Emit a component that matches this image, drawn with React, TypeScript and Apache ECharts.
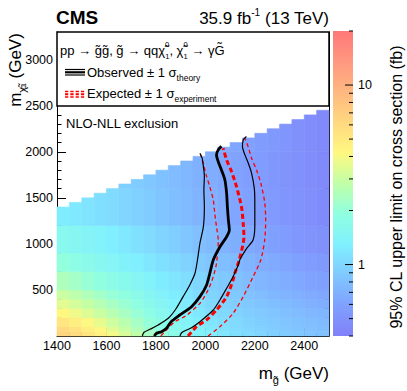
import React, { useEffect, useRef } from "react";
import * as echarts from "echarts";

// ---------- data ----------
const GLUINO_EDGES = [1400, 1450, 1500, 1550, 1600, 1650, 1700, 1750, 1800, 1850, 1900, 1950, 2000, 2050, 2100, 2150, 2200, 2250, 2300, 2350, 2400, 2450, 2500];
const NEUTRALINO_BANDS = [0, 50, 100, 200, 300, 400, 500, 700, 900, 1200, 1600, 2000, 2500];
const N = null;
// observed 95% CL upper limit (fb); one row per neutralino band, one value per gluino column
const LIMIT_ROWS: (number | null)[][] = [
  [6.5, 5.9, 5.2, 4.5, 3.9, 3.3, 2.8, 2.35, 2.0, 1.75, 1.55, 1.4, 1.28, 1.18, 1.12, 1.06, 1.0, 0.95, 0.9, 0.88, 0.85, 0.82],
  [6.0, 5.4, 4.7, 4.1, 3.5, 3.0, 2.5, 2.2, 1.85, 1.65, 1.48, 1.33, 1.22, 1.13, 1.07, 1.01, 0.96, 0.92, 0.88, 0.85, 0.82, 0.8],
  [5.2, 4.7, 4.1, 3.6, 3.1, 2.7, 2.3, 2.0, 1.75, 1.55, 1.4, 1.27, 1.16, 1.09, 1.03, 0.97, 0.93, 0.89, 0.85, 0.82, 0.79, 0.77],
  [4.2, 3.8, 3.4, 3.0, 2.65, 2.35, 2.05, 1.8, 1.6, 1.44, 1.32, 1.2, 1.1, 1.03, 0.98, 0.93, 0.89, 0.85, 0.81, 0.78, 0.75, 0.73],
  [3.5, 3.2, 2.9, 2.6, 2.35, 2.1, 1.85, 1.65, 1.48, 1.35, 1.23, 1.13, 1.04, 0.98, 0.93, 0.88, 0.84, 0.8, 0.76, 0.73, 0.7, 0.68],
  [3.0, 2.75, 2.5, 2.25, 2.05, 1.88, 1.7, 1.53, 1.38, 1.26, 1.16, 1.07, 0.99, 0.93, 0.88, 0.83, 0.79, 0.75, 0.72, 0.69, 0.66, 0.64],
  [2.45, 2.25, 2.05, 1.9, 1.75, 1.62, 1.48, 1.36, 1.25, 1.16, 1.08, 1.0, 0.93, 0.88, 0.83, 0.78, 0.74, 0.7, 0.67, 0.64, 0.61, 0.59],
  [1.95, 1.8, 1.68, 1.57, 1.47, 1.37, 1.28, 1.19, 1.11, 1.04, 0.97, 0.9, 0.85, 0.8, 0.76, 0.72, 0.68, 0.65, 0.62, 0.59, 0.56, 0.54],
  [1.6, 1.52, 1.44, 1.36, 1.28, 1.2, 1.12, 1.05, 0.98, 0.92, 0.86, 0.81, 0.76, 0.72, 0.68, 0.65, 0.62, 0.59, 0.56, 0.53, 0.51, 0.49],
  [1.25, 1.2, 1.15, 1.1, 1.05, 1.0, 0.95, 0.9, 0.85, 0.8, 0.76, 0.72, 0.69, 0.66, 0.63, 0.6, 0.57, 0.55, 0.52, 0.5, 0.48, 0.46],
  [N, N, N, N, N, 0.95, 0.9, 0.86, 0.82, 0.78, 0.74, 0.7, 0.67, 0.64, 0.61, 0.58, 0.56, 0.53, 0.51, 0.49, 0.47, 0.45],
  [N, N, N, N, N, N, N, N, N, N, N, N, N, 0.66, 0.63, 0.6, 0.57, 0.54, 0.52, 0.49, 0.47, 0.45],
];

const OBS_MINUS = [[1745, 0], [1752, 40], [1778, 75], [1809, 119], [1850, 192], [1880, 290], [1910, 427], [1937, 554], [1958, 681], [1968, 825], [1978, 1007], [1992, 1187], [1996, 1404], [1994, 1585], [1996, 1733], [1992, 1841], [1987, 1930], [1978, 1984]];
const OBSERVED = [[1793, 0], [1803, 29], [1823, 47], [1843, 84], [1860, 150], [1897, 228], [1944, 318], [1978, 427], [2005, 554], [2018, 681], [2032, 825], [2059, 969], [2086, 1078], [2097, 1151], [2093, 1260], [2089, 1405], [2086, 1549], [2079, 1694], [2065, 1803], [2052, 1893], [2045, 1966], [2052, 2020], [2065, 2059]];
const OBS_PLUS = [[1897, 0], [1904, 36], [1924, 65], [1944, 90], [1978, 155], [2032, 282], [2059, 391], [2086, 518], [2112, 644], [2133, 771], [2139, 825], [2167, 952], [2193, 1042], [2200, 1200], [2200, 1450], [2198, 1600], [2187, 1766], [2173, 1880], [2160, 1966], [2150, 2056], [2153, 2128], [2166, 2165]];
const EXP_MINUS = [[1820, 0], [1836, 47], [1857, 108], [1877, 155], [1924, 225], [1978, 355], [2011, 499], [2032, 644], [2045, 789], [2052, 1042], [2045, 1187], [2038, 1332], [2032, 1476], [2018, 1621], [2005, 1733], [1991, 1875], [1980, 1975]];
const EXPECTED = [[1930, 0], [1964, 101], [2005, 174], [2045, 282], [2086, 427], [2112, 608], [2119, 681], [2137, 825], [2156, 1078], [2153, 1224], [2146, 1404], [2126, 1621], [2106, 1784], [2086, 1911], [2072, 2038]];
const EXP_PLUS = [[2011, 0], [2059, 101], [2112, 246], [2153, 427], [2193, 644], [2224, 825], [2240, 1042], [2244, 1260], [2240, 1450], [2225, 1650], [2207, 1802], [2187, 1929], [2173, 2055], [2160, 2147]];

const X_MIN = 1400, X_MAX = 2500, X_STEP = 200;
const Y_MIN = 0, Y_MAX = 3300, Y_STEP = 500;
const Y_LABEL_MAX = 3000;
const CB_MIN = 0.4, CB_MAX = 20;
const CB_TICKS = [0.4, 0.5, 0.6, 0.7, 0.8, 0.9, 1, 2, 3, 4, 5, 6, 7, 8, 9, 10, 20];
const CB_MAJOR = [1, 10];
const CB_LABELS = [1, 10];

const PALETTE = ["#8080f8", "#80a0ff", "#80c8ff", "#80f0ff", "#90ffe0", "#c0ffa8", "#fff880", "#ffd880", "#ffb880", "#ff9880", "#ff7878"];
const FONT = "'Liberation Sans', Arial, Helvetica, sans-serif";

function buildCells() {
  const cells: number[][] = [];
  for (let i = 0; i < GLUINO_EDGES.length - 1; i++) {
    const x0 = GLUINO_EDGES[i];
    const x1 = GLUINO_EDGES[i + 1];
    for (let j = 0; j < NEUTRALINO_BANDS.length - 1; j++) {
      const v = LIMIT_ROWS[j][i];
      if (v == null) continue;
      const y0 = NEUTRALINO_BANDS[j];
      const y1 = Math.min(NEUTRALINO_BANDS[j + 1], x0);
      if (y1 <= y0) continue;
      cells.push([x0, x1, y0, y1, Math.log10(v), v]);
    }
  }
  return cells;
}

export default function App() {
  const ref = useRef<HTMLDivElement>(null);
  useEffect(() => {
    if (!ref.current) return;
    const chart = echarts.init(ref.current, undefined, { renderer: "svg" });
    const black = "#000";
    const mkLine = (data: number[][], color: string, width: number, dash?: number[]) => ({
      type: "line",
      xAxisIndex: 0,
      yAxisIndex: 0,
      data,
      symbol: "none",
      showSymbol: false,
      smooth: 0.25,
      silent: true,
      z: 5,
      lineStyle: { color, width, type: dash ? dash : "solid", cap: "butt" },
    });
    const tickStyle = { color: black, width: 1 };
    const option: any = {
      animation: false,
      textStyle: { fontFamily: FONT },
      grid: [
        { left: 57, top: 32, width: 272, height: 304, show: false, outerBoundsMode: "none", containLabel: false },
        { left: 333, top: 31, width: 20, height: 305, show: false, outerBoundsMode: "none", containLabel: false },
      ],
      visualMap: {
        type: "continuous",
        show: false,
        seriesIndex: 0,
        dimension: 4,
        min: Math.log10(CB_MIN),
        max: Math.log10(CB_MAX),
        inRange: { color: PALETTE },
      },
      xAxis: [
        {
          type: "value", gridIndex: 0, min: X_MIN, max: X_MAX, interval: X_STEP, position: "bottom",
          axisLine: { show: true, onZero: false, lineStyle: tickStyle },
          axisTick: { show: true, inside: true, length: 8, lineStyle: tickStyle },
          minorTick: { show: true, splitNumber: 4, length: 4, lineStyle: tickStyle },
          axisLabel: { color: black, fontSize: 12.5, margin: 3, fontFamily: FONT, formatter: (v: number) => (v > 2400 ? "" : String(v)) },
          splitLine: { show: false }, minorSplitLine: { show: false },
        },
        { type: "value", gridIndex: 1, min: 0, max: 1, show: false },
      ],
      yAxis: [
        {
          type: "value", gridIndex: 0, min: Y_MIN, max: Y_MAX, interval: Y_STEP, position: "left",
          axisLine: { show: true, onZero: false, lineStyle: tickStyle },
          axisTick: { show: true, inside: true, length: 9, lineStyle: tickStyle },
          minorTick: { show: true, splitNumber: 5, length: 4.5, lineStyle: tickStyle },
          axisLabel: { color: black, fontSize: 12.5, margin: 4, fontFamily: FONT, formatter: (v: number) => (v <= 0 || v > Y_LABEL_MAX ? "" : String(v)) },
          splitLine: { show: false }, minorSplitLine: { show: false },
        },
        {
          type: "value", gridIndex: 0, min: Y_MIN, max: Y_MAX, interval: Y_STEP, position: "right",
          axisLine: { show: true, onZero: false, lineStyle: tickStyle },
          axisTick: { show: true, inside: true, length: 9, lineStyle: tickStyle },
          minorTick: { show: true, splitNumber: 5, length: 4.5, lineStyle: tickStyle },
          axisLabel: { show: false },
          splitLine: { show: false }, minorSplitLine: { show: false },
        },
        {
          type: "log", logBase: 10, gridIndex: 1, min: CB_MIN, max: CB_MAX, position: "right",
          axisLine: { show: false }, axisTick: { show: false }, splitLine: { show: false },
          axisLabel: {
            color: black, fontSize: 12.5, margin: 5, fontFamily: FONT,
            formatter: (v: number) => {
              const hit = CB_LABELS.find((l) => Math.abs(v - l) < 1e-6 * l);
              return hit !== undefined ? String(hit) : "";
            },
          },
        },
      ],
      series: [
        {
          type: "custom",
          xAxisIndex: 0,
          yAxisIndex: 0,
          silent: true,
          z: 1,
          dimensions: ["x0", "x1", "y0", "y1", "logv", "v"],
          encode: { x: [0, 1], y: [2, 3] },
          data: buildCells(),
          renderItem: (_p: any, api: any) => {
            const a = api.coord([api.value(0), api.value(3)]);
            const b = api.coord([api.value(1), api.value(2)]);
            const c = api.visual("color");
            return {
              type: "rect",
              shape: { x: a[0], y: a[1], width: b[0] - a[0], height: b[1] - a[1] },
              style: { fill: c, stroke: c, lineWidth: 0.6 },
            };
          },
        },
        mkLine(EXP_MINUS, "#ff0000", 1.3, [4, 3]),
        mkLine(EXP_PLUS, "#ff0000", 1.3, [4, 3]),
        mkLine(EXPECTED, "#ff0000", 3, [5, 3]),
        mkLine(OBS_MINUS, black, 1.2),
        mkLine(OBS_PLUS, black, 1.2),
        mkLine(OBSERVED, black, 2.8),
        {
          type: "custom",
          xAxisIndex: 1,
          yAxisIndex: 2,
          silent: true,
          data: [[0, 1]],
          renderItem: (_p: any, api: any) => {
            const a = api.coord([0, CB_MAX]);
            const b = api.coord([1, CB_MIN]);
            return {
              type: "rect",
              shape: { x: a[0], y: a[1], width: b[0] - a[0], height: b[1] - a[1] },
              style: {
                fill: new echarts.graphic.LinearGradient(0, 1, 0, 0, PALETTE.map((c, i) => ({ offset: i / (PALETTE.length - 1), color: c }))),
              },
            };
          },
        },
        {
          type: "custom",
          xAxisIndex: 1,
          yAxisIndex: 2,
          silent: true,
          z: 3,
          data: CB_TICKS.map((v) => [1, v]),
          renderItem: (_p: any, api: any) => {
            const v = api.value(1);
            const p = api.coord([1, v]);
            const len = CB_MAJOR.includes(v) ? 8 : 4;
            return {
              type: "line",
              shape: { x1: p[0] - len, y1: p[1], x2: p[0], y2: p[1] },
              style: { stroke: black, lineWidth: 1 },
            };
          },
        },
      ],
      graphic: [
        { type: "rect", z: 100, shape: { x: 57, y: 32, width: 272, height: 74 }, style: { fill: "#fff", stroke: black, lineWidth: 1.5 } },
        {
          type: "text", z: 101, x: 60, y: 50,
          style: {
            text: "{t|pp → g\u0303g\u0303, g\u0303 → qqχ\u0303}{sp|0}{sb|1}{t|, χ\u0303}{sp|0}{sb|1}{t| → γG\u0303}",
            verticalAlign: "middle", align: "left", fill: black, fontFamily: FONT,
            rich: {
              t: { fontSize: 13, lineHeight: 20, fontFamily: FONT, fill: black },
              sp: { fontSize: 7.5, lineHeight: 10, verticalAlign: "top", width: 0.1, fontFamily: FONT, fill: black },
              sb: { fontSize: 7.5, lineHeight: 10, verticalAlign: "bottom", fontFamily: FONT, fill: black },
            },
          },
        },
        { type: "line", z: 101, shape: { x1: 65, y1: 69.5, x2: 85, y2: 69.5 }, style: { stroke: black, lineWidth: 1.2 } },
        { type: "line", z: 101, shape: { x1: 65, y1: 72.3, x2: 85, y2: 72.3 }, style: { stroke: black, lineWidth: 2.2 } },
        { type: "line", z: 101, shape: { x1: 65, y1: 75, x2: 85, y2: 75 }, style: { stroke: black, lineWidth: 1.2 } },
        { type: "line", z: 101, shape: { x1: 65, y1: 91.5, x2: 85, y2: 91.5 }, style: { stroke: "#ff0000", lineWidth: 1.3, lineDash: [3.3, 2] } },
        { type: "line", z: 101, shape: { x1: 65, y1: 94.2, x2: 85, y2: 94.2 }, style: { stroke: "#ff0000", lineWidth: 2, lineDash: [3.3, 2] } },
        { type: "line", z: 101, shape: { x1: 65, y1: 97, x2: 85, y2: 97 }, style: { stroke: "#ff0000", lineWidth: 1.3, lineDash: [3.3, 2] } },
        {
          type: "text", z: 101, x: 87, y: 72,
          style: {
            text: "{t|Observed ± 1 σ}{s|theory}", verticalAlign: "middle", align: "left", fill: black, fontFamily: FONT,
            rich: {
              t: { fontSize: 13, lineHeight: 20, fontFamily: FONT, fill: black },
              s: { fontSize: 8.5, lineHeight: 11, verticalAlign: "bottom", fontFamily: FONT, fill: black },
            },
          },
        },
        {
          type: "text", z: 101, x: 87, y: 93,
          style: {
            text: "{t|Expected ± 1 σ}{s|experiment}", verticalAlign: "middle", align: "left", fill: black, fontFamily: FONT,
            rich: {
              t: { fontSize: 13, lineHeight: 20, fontFamily: FONT, fill: black },
              s: { fontSize: 8.5, lineHeight: 11, verticalAlign: "bottom", fontFamily: FONT, fill: black },
            },
          },
        },
        {
          type: "text", z: 101, x: 66, y: 123,
          style: { text: "NLO-NLL exclusion", fontSize: 13, fontFamily: FONT, fill: black, verticalAlign: "middle", align: "left" },
        },
        {
          type: "text", z: 101, x: 56, y: 17,
          style: { text: "CMS", fontSize: 19, fontWeight: "bold", fontFamily: FONT, fill: black, verticalAlign: "middle", align: "left" },
        },
        {
          type: "text", z: 101, x: 329, y: 18,
          style: {
            text: "{t|35.9 fb}{sp|-1}{t| (13 TeV)}", verticalAlign: "middle", align: "right", fill: black, fontFamily: FONT,
            rich: {
              t: { fontSize: 17, lineHeight: 22, fontFamily: FONT, fill: black },
              sp: { fontSize: 10, lineHeight: 12, verticalAlign: "top", fontFamily: FONT, fill: black },
            },
          },
        },
        {
          type: "text", z: 101, x: 329, y: 373,
          style: {
            text: "{t|m}{s|g\u0303}{t| (GeV)}", verticalAlign: "middle", align: "right", fill: black, fontFamily: FONT,
            rich: {
              t: { fontSize: 17, lineHeight: 24, fontFamily: FONT, fill: black },
              s: { fontSize: 11, lineHeight: 14, verticalAlign: "bottom", fontFamily: FONT, fill: black },
            },
          },
        },
        {
          type: "text", z: 101, x: 15, y: 70, rotation: Math.PI / 2,
          style: {
            text: "{t|m}{s|χ\u0303}{sp|0}{sb|1}{t| (GeV)}", verticalAlign: "middle", align: "center", fill: black, fontFamily: FONT,
            rich: {
              t: { fontSize: 17, lineHeight: 24, fontFamily: FONT, fill: black },
              s: { fontSize: 11, lineHeight: 16, verticalAlign: "bottom", fontFamily: FONT, fill: black },
              sp: { fontSize: 6.5, lineHeight: 20, verticalAlign: "bottom", width: 0.1, fontFamily: FONT, fill: black },
              sb: { fontSize: 6.5, lineHeight: 8, verticalAlign: "bottom", fontFamily: FONT, fill: black },
            },
          },
        },
        {
          type: "text", z: 101, x: 396, y: 187, rotation: Math.PI / 2,
          style: { text: "95% CL upper limit on cross section (fb)", fontSize: 16, fontFamily: FONT, fill: black, verticalAlign: "middle", align: "center" },
        },
      ],
    };
    chart.setOption(option);
    return () => chart.dispose();
  }, []);
  return <div ref={ref} style={{ position: "fixed", left: 0, top: 0, width: 407, height: 391, background: "#fff" }} />;
}
